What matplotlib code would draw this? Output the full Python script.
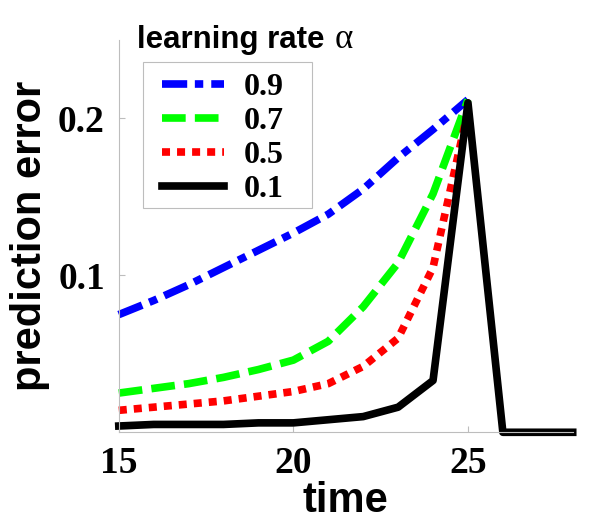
import matplotlib
matplotlib.use("Agg")
import matplotlib.pyplot as plt
from matplotlib.patches import Rectangle

# prediction error over time for four learning rates
time = [15, 16, 17, 18, 19, 20, 21, 22, 23, 24, 25]
time_long = [15, 16, 17, 18, 19, 20, 21, 22, 23, 24, 25, 26, 27, 28]
err_09 = [0.075, 0.084, 0.094, 0.105, 0.116, 0.127, 0.139, 0.155, 0.175, 0.193, 0.212]
err_07 = [0.025, 0.028, 0.031, 0.035, 0.040, 0.046, 0.058, 0.080, 0.108, 0.152, 0.212]
err_05 = [0.014, 0.016, 0.018, 0.020, 0.023, 0.026, 0.031, 0.042, 0.060, 0.105, 0.205]
err_01 = [0.004, 0.005, 0.005, 0.005, 0.006, 0.006, 0.008, 0.010, 0.016, 0.033, 0.210, 0.0, 0.0, 0.0]
labels = ["0.9", "0.7", "0.5", "0.1"]
xticks = [15, 20, 25]
yticks = [0.1, 0.2]

fig = plt.figure(figsize=(6, 5.25), dpi=100)
ax = fig.add_axes([0.198, 0.1766, 0.7565, 0.7472])

lw = 5.5
ax.plot(time, err_09, color="#0000ff", lw=lw, linestyle=(0, (3.3, 1.0, 1.1, 1.05)),
        label=labels[0], clip_on=False)
ax.plot(time, err_07, color="#00ff00", lw=lw, linestyle=(0, (3.1, 1.2)),
        label=labels[1], clip_on=False)
ax.plot(time, err_05, color="#ff0000", lw=lw, linestyle=(0, (1.05, 0.92)),
        label=labels[2], clip_on=False)
ax.plot(time_long, err_01, color="black", lw=lw, label=labels[3], clip_on=False)

ax.set_xlim(15, 28)
ax.set_ylim(0, 0.25)
ax.set_xticks(xticks)
ax.set_xticklabels([str(t) for t in xticks])
ax.set_yticks(yticks)
ax.set_yticklabels([f"{t:.1f}" for t in yticks])

for side in ["top", "right"]:
    ax.spines[side].set_visible(False)
for side in ["left", "bottom"]:
    ax.spines[side].set_color("#bdbdbd")
    ax.spines[side].set_linewidth(0.8)

ax.tick_params(direction="in", length=4, width=0.8, color="#bdbdbd")
ax.tick_params(axis="x", pad=10)
ax.tick_params(axis="y", pad=10)
for t in ax.get_xticklabels() + ax.get_yticklabels():
    t.set_fontfamily("Liberation Serif")
    t.set_fontweight("bold")
    t.set_fontsize(27)

ax.set_xlabel("time", fontfamily="Liberation Sans", fontweight="bold",
              fontsize=30, labelpad=0)
ax.set_ylabel("prediction error", fontfamily="Liberation Sans", fontweight="bold",
              fontsize=30, labelpad=6)

# legend without its own frame; the frame is drawn as a separate box
leg = ax.legend(loc="upper left", bbox_to_anchor=(162 / 600, 1 - 73 / 525),
                bbox_transform=fig.transFigure, borderaxespad=0, borderpad=0,
                prop={"family": "Liberation Serif", "weight": "bold", "size": 23},
                handlelength=1.95, handletextpad=0.6, labelspacing=0.14,
                frameon=False)
fig.patches.append(Rectangle((143 / 600, 1 - 208 / 525), 169 / 600, 146 / 525,
                             transform=fig.transFigure, facecolor="none",
                             edgecolor="#bdbdbd", linewidth=0.8))

t1 = fig.text(137 / 600, 1 - 48 / 525, "learning rate", fontfamily="Liberation Sans",
              fontweight="bold", fontsize=22.5, ha="left", va="baseline")
fig.canvas.draw()
bb = t1.get_window_extent()
fig.text((bb.x1 + 10) / 600, 1 - 48 / 525, "α", fontfamily="Liberation Serif",
         fontsize=25, ha="left", va="baseline")

fig.savefig("out.png", dpi=100)
